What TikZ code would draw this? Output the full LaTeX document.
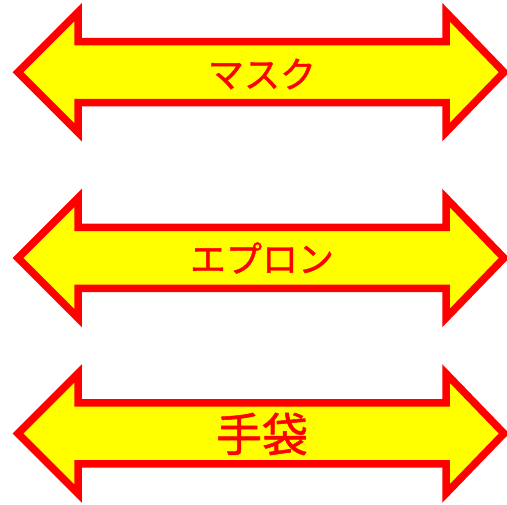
\documentclass[tikz,border=0pt]{standalone}
\usepackage{fontspec}
\newfontfamily\jp[FakeBold=1.2]{Noto Sans CJK JP}
\definecolor{fillyellow}{RGB}{255,255,0}
\definecolor{linered}{RGB}{255,0,0}
\tikzset{
  arrowshape/.style={draw=linered, fill=fillyellow, line width=7.5pt, line join=miter, miter limit=10},
  lbl/.style={text=linered, inner sep=0pt, font=\jp\fontsize{36}{36}\selectfont},
  lblbig/.style={lbl, font=\jp\fontsize{46}{46}\selectfont},
  dblarrow/.pic={
    \draw[arrowshape] (18,0) -- (78,-60) -- (78,-30.5) -- (446,-30.5) -- (446,-60) -- (504,0)
      -- (446,60) -- (446,30.5) -- (78,30.5) -- (78,60) -- cycle;
  }
}
\begin{document}
\begin{tikzpicture}[x=1pt,y=-1pt]
\useasboundingbox (0,0) rectangle (507,505);
\pic at (0,72.2) {dblarrow};
\pic at (0,258) {dblarrow};
\pic at (0,433.5) {dblarrow};
\node[lbl] (t1) at (262,74) {マスク};
\node[lbl] (t2) at (262,258) {エプロン};
\node[lblbig] (t3) at (262,434) {手袋};
\end{tikzpicture}
\end{document}
